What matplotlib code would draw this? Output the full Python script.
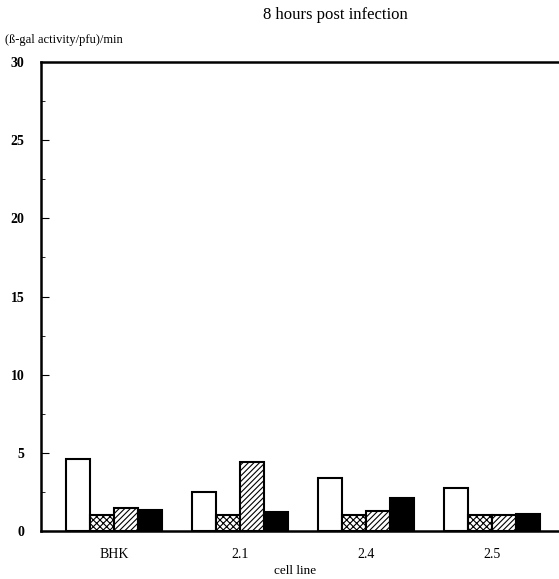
import numpy as np
import matplotlib.pyplot as plt
from matplotlib.ticker import MultipleLocator

# data
cell_lines = ["BHK", "2.1", "2.4", "2.5"]
open_bar = [4.6, 2.5, 3.4, 2.75]
cross_bar = [1.0, 1.0, 1.0, 1.0]
diag_bar = [1.5, 4.4, 1.3, 1.0]
black_bar = [1.35, 1.2, 2.1, 1.1]

plt.rcParams['font.family'] = ['Liberation Serif', 'DejaVu Serif']
plt.rcParams['hatch.linewidth'] = 0.8

fig = plt.figure(figsize=(5.59, 5.79), dpi=100)
# axes runs off the right edge, like the scanned original
ax = fig.add_axes([41/559, 1 - 531/579, 1.0, (531 - 62)/579])

x = np.arange(len(cell_lines))
w = 0.19
series = [
    (open_bar, "white", ""),
    (cross_bar, "white", "xxxxx"),
    (diag_bar, "white", "//////"),
    (black_bar, "black", ""),
]
for i, (vals, fc, hatch) in enumerate(series):
    ax.bar(x + (i - 1.5) * w, vals, width=w, facecolor=fc, edgecolor="black",
           hatch=hatch, linewidth=1.5)

ax.set_xlim(-0.58, 3.86)
ax.set_ylim(0, 30)
ax.yaxis.set_major_locator(MultipleLocator(5))
ax.yaxis.set_minor_locator(MultipleLocator(2.5))
ax.tick_params(axis="y", which="major", direction="in", length=6, labelsize=10, pad=12)
ax.tick_params(axis="y", which="minor", direction="in", length=3)
ax.set_xticks(x)
ax.set_xticklabels(cell_lines)
ax.tick_params(axis="x", length=0, labelsize=10, pad=12)
for lab in ax.get_yticklabels():
    lab.set_fontweight("bold")

for s in ["left", "bottom", "top"]:
    ax.spines[s].set_linewidth(1.8)
ax.spines["right"].set_visible(False)

fig.text(335/559, 1 - 15/579, "8 hours post infection", ha="center", va="center", fontsize=12)
fig.text(5/559, 1 - 40/579, "(ß-gal activity/pfu)/min", ha="left", va="center", fontsize=9)
fig.text(295/559, 1 - 571/579, "cell line", ha="center", va="center", fontsize=9.5)

fig.savefig("out.png", dpi=100)
